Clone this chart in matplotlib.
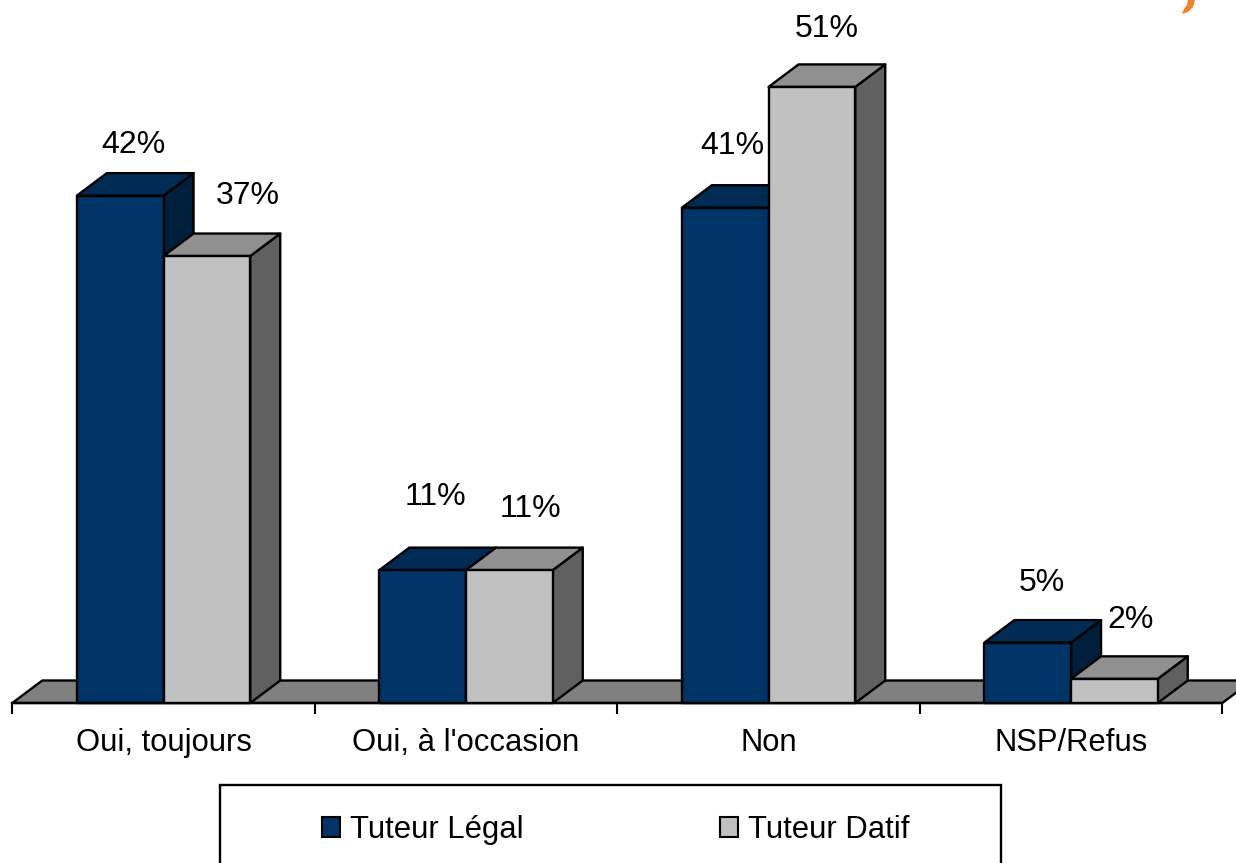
import matplotlib
matplotlib.use("Agg")
import matplotlib.pyplot as plt
from matplotlib.patches import Polygon, Rectangle, Patch
from matplotlib.transforms import Affine2D

categories = ["Oui, toujours", "Oui, à l'occasion", "Non", "NSP/Refus"]
tuteur_legal = [42, 11, 41, 5]
tuteur_datif = [37, 11, 51, 2]
series_names = ["Tuteur Légal", "Tuteur Datif"]

W, H = 1236, 863
plt.rcParams["font.family"] = ["Liberation Sans", "DejaVu Sans"]
FS = 22.3
FS_LABEL = 23.0
fig = plt.figure(figsize=(W / 100, H / 100), dpi=100, facecolor="white")

# Axes spans the category axis; 12.08 px per percentage point
X0, X1, BASE = 12.3, 1222.3, 703
PX_PER_PCT = 12.08
ax = fig.add_axes([X0 / W, (H - BASE) / H, (X1 - X0) / W, BASE / H])
ax.set_xlim(0, 4)
ax.set_ylim(0, BASE / PX_PER_PCT)
ax.patch.set_alpha(0)
for s in ("top", "left", "right"):
    ax.spines[s].set_visible(False)
ax.spines["bottom"].set_linewidth(1.7)
ax.set_yticks([])
ax.set_xticks(range(5))
ax.set_xticklabels([])
ax.set_xticks([i + 0.5 for i in range(4)], minor=True)
ax.set_xticklabels(categories, minor=True, fontsize=FS)
ax.tick_params(axis="x", which="major", length=8, width=1.5, color="black")
ax.tick_params(axis="x", which="minor", length=0, pad=18)

PX_X = (X1 - X0) / 4
DX = 30 / PX_X            # depth, in category units
DY = 22.5 / PX_PER_PCT    # depth, in percentage points
BAR_W = 86.7 / PX_X
LW = 1.7


def poly(pts, fc, z):
    ax.add_patch(Polygon(pts, closed=True, facecolor=fc, edgecolor="black",
                         linewidth=LW, joinstyle="round", clip_on=False, zorder=z))


# floor
poly([(0, 0), (4, 0), (4 + DX, DY), (DX, DY)], "#808080", 1)


def bar3d(x, v, front, top, side, z):
    poly([(x + BAR_W, 0), (x + BAR_W + DX, DY), (x + BAR_W + DX, v + DY), (x + BAR_W, v)], side, z)
    poly([(x, v), (x + BAR_W, v), (x + BAR_W + DX, v + DY), (x + DX, v + DY)], top, z)
    poly([(x, 0), (x + BAR_W, 0), (x + BAR_W, v), (x, v)], front, z)


NAVY = ("#003366", "#002B55", "#001F3D")
GREY = ("#C0C0C0", "#909090", "#606060")

# label offsets from the front bar's top-centre, in pixels
legal_off = [(13, 51), (13, 73), (7, 62), (14, 60)]
datif_off = [(41, 60), (21, 61), (15, 58), (16, 59)]

for i in range(4):
    z = 2 + i * 2
    bar3d(i + 0.5 - BAR_W, tuteur_legal[i], *NAVY, z)
    bar3d(i + 0.5, tuteur_datif[i], *GREY, z + 1)
    for x, v, off in ((i + 0.5 - BAR_W / 2, tuteur_legal[i], legal_off[i]),
                      (i + 0.5 + BAR_W / 2, tuteur_datif[i], datif_off[i])):
        ax.annotate(f"{v}%", (x, v), xytext=(off[0] * 0.72, off[1] * 0.72),
                    textcoords="offset points", ha="center", va="center",
                    fontsize=FS_LABEL, color="black", zorder=20, annotation_clip=False)

# pixel-space transform (origin top-left)
px = Affine2D().scale(1, -1).translate(0, H)

# legend frame runs off the bottom of the picture
fig.add_artist(Rectangle((220, 785), 781, 100, transform=px, facecolor="white",
                         edgecolor="black", linewidth=1.7, zorder=3))
handles = [Patch(facecolor=NAVY[0], edgecolor="black", linewidth=1.5),
           Patch(facecolor=GREY[0], edgecolor="black", linewidth=1.5)]
leg = fig.legend(handles, series_names, ncol=2, frameon=False, fontsize=FS,
                 loc="center left", bbox_to_anchor=(322 / W, (H - 830) / H),
                 borderpad=0, borderaxespad=0, handlelength=0.58, handleheight=0.58,
                 handletextpad=0.32, columnspacing=6.35)
leg.set_zorder(4)

# orange fragment at the top right corner
fig.add_artist(Polygon([(1188, 0), (1195, 0), (1193, 7), (1188, 12), (1182, 14), (1184, 9), (1187, 5)],
                       closed=True, transform=px, facecolor="#F58220", edgecolor="none"))

fig.savefig("out.png", dpi=100)
